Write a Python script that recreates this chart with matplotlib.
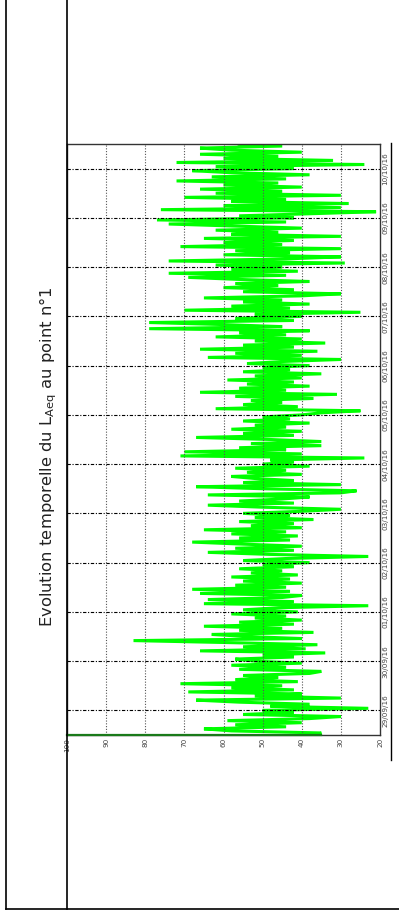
import datetime as dt

import matplotlib
matplotlib.use("Agg")
import matplotlib.pyplot as plt
from matplotlib.lines import Line2D

# Hourly LAeq readings in dB(A),
# one list per day starting 28/09/16 12:00 (last list ends 10/10/16 12:00)
laeq_d00 = [36, 35, 58, 65, 44, 57, 40, 59, 38, 30, 55, 42, 50, 23, 48, 38, 56, 67, 30, 52, 40, 69, 42, 58]
laeq_d01 = [45, 71, 41, 57, 46, 55, 38, 35, 56, 44, 58, 40, 52, 57, 42, 50, 34, 66, 39, 55, 36, 58, 83, 40]
laeq_d02 = [54, 63, 37, 56, 45, 65, 42, 56, 40, 52, 44, 58, 41, 55, 46, 23, 65, 42, 64, 45, 40, 66, 43, 68]
laeq_d03 = [44, 57, 40, 55, 43, 58, 41, 53, 45, 56, 42, 50, 38, 55, 44, 23, 48, 64, 42, 57, 40, 55, 68, 43]
laeq_d04 = [56, 41, 58, 44, 65, 40, 53, 42, 56, 37, 52, 43, 55, 40, 30, 50, 64, 42, 56, 45, 38, 64, 30, 26]
laeq_d05 = [50, 67, 30, 55, 42, 52, 58, 40, 54, 44, 57, 38, 50, 42, 48, 24, 71, 40, 70, 44, 56, 35, 53, 35]
laeq_d06 = [48, 67, 42, 55, 40, 58, 44, 52, 38, 55, 43, 50, 40, 35, 25, 62, 41, 55, 45, 53, 37, 57, 31, 66]
laeq_d07 = [44, 56, 38, 54, 42, 59, 40, 52, 35, 55, 43, 50, 38, 54, 45, 30, 64, 40, 57, 36, 66, 42, 55, 34]
laeq_d08 = [52, 40, 62, 44, 56, 38, 79, 45, 60, 79, 42, 57, 40, 52, 25, 70, 43, 58, 38, 55, 45, 65, 40, 30]
laeq_d09 = [55, 42, 60, 46, 57, 38, 56, 69, 44, 74, 41, 58, 45, 62, 29, 74, 44, 30, 60, 43, 57, 30, 71, 45]
laeq_d10 = [60, 42, 65, 30, 58, 46, 62, 40, 57, 74, 44, 77, 42, 56, 38, 21, 76, 30, 60, 28, 58, 44, 70, 30]
laeq_d11 = [62, 45, 66, 40, 60, 46, 72, 44, 63, 38, 58, 68, 42, 62, 24, 72, 32, 60, 46, 66, 40, 58, 66, 45, 56]

# initial jump of the recorder at the very first instant
start_levels = [100, 35]

db_ticks = [100, 90, 80, 70, 60, 50, 40, 30, 20]
day_labels = ["29/09/16", "30/09/16", "01/10/16", "02/10/16", "03/10/16", "04/10/16",
              "05/10/16", "06/10/16", "07/10/16", "08/10/16", "09/10/16", "10/10/16"]

laeq = (laeq_d00 + laeq_d01 + laeq_d02 + laeq_d03 + laeq_d04 + laeq_d05
        + laeq_d06 + laeq_d07 + laeq_d08 + laeq_d09 + laeq_d10 + laeq_d11)

t_start = dt.datetime(2016, 9, 28, 12)
times = [t_start + dt.timedelta(hours=i) for i in range(len(laeq))]
day_ticks = [dt.datetime.strptime(s, "%d/%m/%y") for s in day_labels]

W, H = 399, 921
fig = plt.figure(figsize=(W / 100, H / 100), dpi=100)

# chart is drawn already turned a quarter turn: level across, time upward
ax = fig.add_axes([67 / W, (H - 735) / H, (380 - 67) / W, (735 - 144) / H])
ax.plot(laeq, times, color="#00ff00", lw=2.2, solid_joinstyle="miter", zorder=2)
ax.plot(start_levels, [times[0], times[0]], color="#1a7a1a", lw=1.6,
        zorder=4, clip_on=False)

ax.set_xlim(100, 20)
ax.set_ylim(times[0], times[-1])

ax.set_xticks(db_ticks)
ax.set_xticklabels([str(v) for v in db_ticks], rotation=90, va="top", ha="center")
ax.set_yticks(day_ticks)
ax.set_yticklabels(day_labels, rotation=90, va="center")
ax.yaxis.tick_right()
ax.tick_params(length=0, labelsize=5.2, colors="#444444")
ax.tick_params(axis="x", pad=2)
ax.tick_params(axis="y", pad=1.5)

for v in db_ticks[1:-1]:
    ax.axvline(v, color="#555555", ls=(0, (1, 1.5)), lw=0.8, zorder=3)
for d in day_ticks:
    ax.axhline(d, color="black", ls=(0, (3, 1.5, 1, 1.5)), lw=0.8, zorder=3)

for s in ax.spines.values():
    s.set_color("#333333")
    s.set_linewidth(1.0)

# page frame lines around the chart
def page_line(x0, y0, x1, y1, lw=1.2):
    fig.add_artist(Line2D([x0 / W, x1 / W], [1 - y0 / H, 1 - y1 / H],
                          transform=fig.transFigure, color="black", lw=lw))

page_line(6, 0, 6, 909)
page_line(67, 0, 67, 909)
page_line(6, 909, W, 909)
page_line(391, 143, 391, 760, lw=1.0)

fig.text(48 / W, 1 - 457 / H,
         "Evolution temporelle du L$_{\\mathregular{Aeq}}$ au point n°1",
         rotation=90, ha="center", va="center", fontsize=11.8, color="#222222")

fig.savefig("out.png", dpi=100)
